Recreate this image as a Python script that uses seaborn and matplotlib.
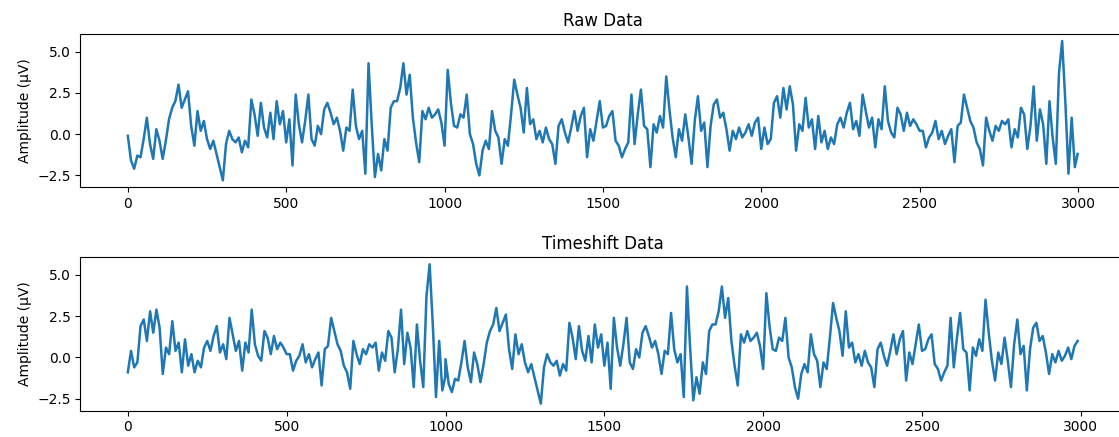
import numpy as np
import pandas as pd
import seaborn as sns
import matplotlib
matplotlib.use("Agg")
import matplotlib.pyplot as plt

# sample positions (every 10 samples, plus the last one) and raw amplitudes
sample_idx = list(range(0, 3000, 10)) + [2999]

raw_amp = [
    # 0 - 490
    -0.1, -1.6, -2.1, -1.3, -1.4, -0.3, 1.0, -0.6, -1.5, 0.3,
    -0.4, -1.5, -0.4, 0.9, 1.6, 2.0, 3.0, 1.6, 2.1, 2.6,
    0.5, -0.7, 1.4, 0.2, 0.8, -0.3, -0.9, -0.4, -1.2, -2.0,
    -2.8, -0.6, 0.2, -0.3, -0.5, -0.2, -1.1, -0.4, -0.8, 2.1,
    1.2, -0.1, 1.9, 0.4, -0.2, 1.3, -0.3, 2.0, 0.6, 1.4,
    # 500 - 990
    -0.5, 0.9, -1.9, 2.4, 0.6, -0.5, 0.8, 2.4, -0.3, -0.7,
    0.5, 0.0, 1.5, 1.9, 1.3, 0.6, 1.0, 0.2, -1.0, 0.4,
    0.2, 2.7, 0.5, -0.3, 0.2, -2.4, 4.3, 0.6, -2.6, -1.2,
    -2.2, -0.3, -1.0, 1.6, 2.0, 2.0, 2.8, 4.3, 2.4, 3.6,
    1.0, -0.5, -1.7, 1.4, 0.9, 1.6, 1.0, 1.2, 1.5, 0.7,
    # 1000 - 1490
    -0.7, 3.9, 1.9, 0.5, 0.4, 1.2, 1.0, 2.4, 0.0, -0.6,
    -1.8, -2.5, -1.0, -0.4, -0.9, 1.4, 0.2, -0.2, -1.8, -0.3,
    -0.7, 1.2, 3.3, 2.4, 1.6, 0.1, 2.8, 0.6, 0.9, -0.3,
    0.2, -0.5, 0.4, -0.3, -0.6, -1.8, 0.5, 0.9, 0.1, -0.5,
    0.4, 1.4, 0.2, 1.1, 1.6, -1.4, 0.3, -0.4, 0.8, 2.0,
    # 1500 - 1990
    0.4, 0.5, 1.1, 1.4, -0.4, -0.7, -1.4, -0.9, -0.5, 2.4,
    -0.6, 1.2, 2.7, 0.5, 0.3, -2.0, 0.6, 0.1, 1.1, 0.4,
    3.5, 1.5, -0.2, -1.4, 0.3, -0.4, 1.2, -0.2, -1.8, 0.8,
    2.3, 0.2, 0.7, -2.0, 0.5, 1.8, 2.1, 1.0, 1.3, 0.3,
    -1.0, 0.2, -0.3, 0.4, -0.2, 0.1, 0.6, -0.1, 0.7, 1.0,
    # 2000 - 2490
    -0.9, 0.4, -0.6, -0.3, 1.9, 2.3, 1.0, 2.8, 1.5, 2.9,
    1.8, -1.0, 0.6, 0.2, 2.2, 0.4, 0.9, -0.9, 1.1, -0.5,
    0.2, -0.9, -0.2, -0.6, 0.6, 1.0, 0.4, 1.3, 1.9, 0.3,
    0.8, -0.1, 2.4, 1.4, 0.4, 1.0, -0.8, 0.9, 0.3, 2.9,
    0.8, 0.1, -0.2, 1.6, 1.2, 0.2, 1.3, 0.5, 0.9, 0.6,
    # 2500 - 2990
    0.2, 0.2, -0.8, -0.2, 0.1, 0.8, -0.3, 0.2, -0.6, -0.1,
    0.3, -1.7, 0.5, 0.7, 2.4, 1.6, 0.8, 0.4, -0.5, -0.9,
    -1.9, 1.0, 0.2, -0.4, 0.5, 0.2, 0.8, 0.6, 0.9, -0.8,
    0.3, -0.2, 1.6, 1.2, -0.9, 0.5, 2.9, -0.4, 1.5, 0.6,
    -1.8, 2.0, -0.2, -1.8, 3.7, 5.65, 2.0, -2.4, 1.0, -2.0,
    # 2999
    -1.2,
]

SHIFT = 1000  # samples the second trace is rolled by
N_SAMPLES = 3000

raw_df = pd.DataFrame({"sample": sample_idx, "amp": raw_amp})
shift_df = pd.DataFrame({"sample": (np.array(sample_idx) + SHIFT) % N_SAMPLES, "amp": raw_amp})
shift_df = shift_df.sort_values("sample")

fig = plt.figure(figsize=(11.19, 4.37), dpi=100)
# right edge lies slightly outside the figure (the reference is cropped there)
ax1 = fig.add_axes([0.0718, 0.5714, 0.9337, 0.3508])
ax2 = fig.add_axes([0.0718, 0.0604, 0.9337, 0.3508])

sns.lineplot(data=raw_df, x="sample", y="amp", ax=ax1, color="#1f77b4", linewidth=1.8)
ax1.set_title("Raw Data")
ax1.set_xlabel("")
ax1.set_ylabel("Amplitude (µV)")

sns.lineplot(data=shift_df, x="sample", y="amp", ax=ax2, color="#1f77b4", linewidth=1.8)
ax2.set_title("Timeshift Data")
ax2.set_xlabel("")
ax2.set_ylabel("Amplitude (µV)")

for ax in (ax1, ax2):
    ax.set_yticks([-2.5, 0.0, 2.5, 5.0])

fig.savefig("out.png", dpi=100)
plt.close(fig)
